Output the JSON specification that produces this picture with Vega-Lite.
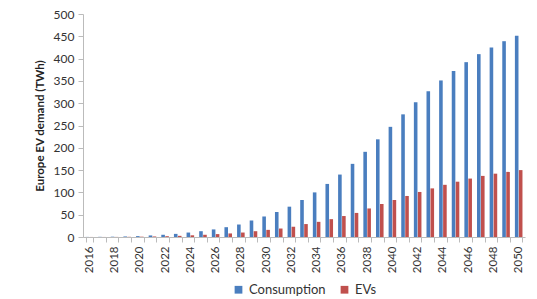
{
  "$schema": "https://vega.github.io/schema/vega-lite/v6.json",
  "width": 442,
  "height": 223,
  "autosize": {"type": "none"},
  "padding": {"left": 83, "top": 14, "right": 12, "bottom": 62},
  "config": {
    "font": "Lato",
    "view": {"stroke": null},
    "axis": {"labelColor": "#333", "labelFont": "Lato", "domainColor": "#bbb", "tickColor": "#bbb", "grid": false},
    "legend": {"layout": {"bottom": {"anchor": "middle"}}}
  },
  "data": {"values": [
    {"year": 2016, "series": "Consumption", "value": 0.2}, {"year": 2016, "series": "EVs", "value": 0.1},
    {"year": 2017, "series": "Consumption", "value": 0.4}, {"year": 2017, "series": "EVs", "value": 0.1},
    {"year": 2018, "series": "Consumption", "value": 0.7}, {"year": 2018, "series": "EVs", "value": 0.2},
    {"year": 2019, "series": "Consumption", "value": 1.2}, {"year": 2019, "series": "EVs", "value": 0.4},
    {"year": 2020, "series": "Consumption", "value": 2}, {"year": 2020, "series": "EVs", "value": 0.7},
    {"year": 2021, "series": "Consumption", "value": 3.5}, {"year": 2021, "series": "EVs", "value": 1.2},
    {"year": 2022, "series": "Consumption", "value": 5}, {"year": 2022, "series": "EVs", "value": 1.8},
    {"year": 2023, "series": "Consumption", "value": 7}, {"year": 2023, "series": "EVs", "value": 2.6},
    {"year": 2024, "series": "Consumption", "value": 10}, {"year": 2024, "series": "EVs", "value": 3.8},
    {"year": 2025, "series": "Consumption", "value": 13}, {"year": 2025, "series": "EVs", "value": 5},
    {"year": 2026, "series": "Consumption", "value": 17}, {"year": 2026, "series": "EVs", "value": 6.5},
    {"year": 2027, "series": "Consumption", "value": 22}, {"year": 2027, "series": "EVs", "value": 8},
    {"year": 2028, "series": "Consumption", "value": 28}, {"year": 2028, "series": "EVs", "value": 10},
    {"year": 2029, "series": "Consumption", "value": 37}, {"year": 2029, "series": "EVs", "value": 13},
    {"year": 2030, "series": "Consumption", "value": 46}, {"year": 2030, "series": "EVs", "value": 16},
    {"year": 2031, "series": "Consumption", "value": 56}, {"year": 2031, "series": "EVs", "value": 19},
    {"year": 2032, "series": "Consumption", "value": 68}, {"year": 2032, "series": "EVs", "value": 23},
    {"year": 2033, "series": "Consumption", "value": 83}, {"year": 2033, "series": "EVs", "value": 29},
    {"year": 2034, "series": "Consumption", "value": 100}, {"year": 2034, "series": "EVs", "value": 34},
    {"year": 2035, "series": "Consumption", "value": 119}, {"year": 2035, "series": "EVs", "value": 40},
    {"year": 2036, "series": "Consumption", "value": 140}, {"year": 2036, "series": "EVs", "value": 47},
    {"year": 2037, "series": "Consumption", "value": 164}, {"year": 2037, "series": "EVs", "value": 54},
    {"year": 2038, "series": "Consumption", "value": 191}, {"year": 2038, "series": "EVs", "value": 64},
    {"year": 2039, "series": "Consumption", "value": 219}, {"year": 2039, "series": "EVs", "value": 74},
    {"year": 2040, "series": "Consumption", "value": 247}, {"year": 2040, "series": "EVs", "value": 83},
    {"year": 2041, "series": "Consumption", "value": 275}, {"year": 2041, "series": "EVs", "value": 92},
    {"year": 2042, "series": "Consumption", "value": 302}, {"year": 2042, "series": "EVs", "value": 101},
    {"year": 2043, "series": "Consumption", "value": 327}, {"year": 2043, "series": "EVs", "value": 109},
    {"year": 2044, "series": "Consumption", "value": 351}, {"year": 2044, "series": "EVs", "value": 117},
    {"year": 2045, "series": "Consumption", "value": 372}, {"year": 2045, "series": "EVs", "value": 124},
    {"year": 2046, "series": "Consumption", "value": 392}, {"year": 2046, "series": "EVs", "value": 131},
    {"year": 2047, "series": "Consumption", "value": 410}, {"year": 2047, "series": "EVs", "value": 137},
    {"year": 2048, "series": "Consumption", "value": 425}, {"year": 2048, "series": "EVs", "value": 142},
    {"year": 2049, "series": "Consumption", "value": 439}, {"year": 2049, "series": "EVs", "value": 146},
    {"year": 2050, "series": "Consumption", "value": 451}, {"year": 2050, "series": "EVs", "value": 150}
  ]},
  "mark": {"type": "bar"},
  "encoding": {
    "x": {
      "field": "year", "type": "ordinal", "title": null,
      "scale": {"paddingInner": 0.4, "paddingOuter": 0.2},
      "axis": {
        "labelAngle": -90, "labelFontSize": 11.5, "tickBand": "extent",
        "labelExpr": "datum.value % 2 == 0 ? datum.value : ''", "labelPadding": 4, "labelBaseline": "middle"
      }
    },
    "xOffset": {"field": "series", "type": "nominal", "scale": {"paddingInner": 0.1}},
    "y": {
      "field": "value", "type": "quantitative",
      "title": "Europe EV demand (TWh)",
      "scale": {"domain": [0, 500]},
      "axis": {"values": [0,50,100,150,200,250,300,350,400,450,500], "labelFontSize": 12, "titleFontSize": 11.5, "titleFontWeight": "bold", "titleColor": "#222", "titlePadding": 8, "labelPadding": 4}
    },
    "color": {
      "field": "series", "type": "nominal",
      "scale": {"domain": ["Consumption", "EVs"], "range": ["#4a7ebf", "#c0504d"]},
      "legend": {"orient": "bottom", "direction": "horizontal", "title": null, "symbolType": "square", "symbolSize": 60, "labelFontSize": 13, "labelColor": "#333", "columnPadding": 12, "offset": 10}
    }
  }
}
